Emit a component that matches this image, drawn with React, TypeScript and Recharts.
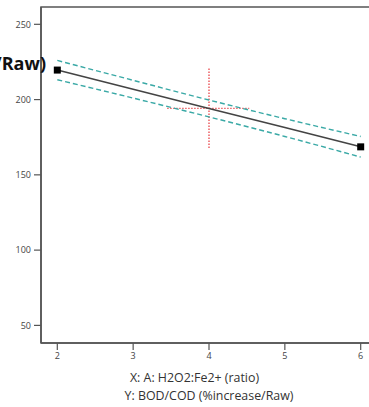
import React from 'react'
import { ComposedChart, Line, XAxis, YAxis, ReferenceLine, ReferenceArea } from 'recharts'

// A: H2O2:Fe2+ ratio
const ratio = [2, 3, 4, 5, 6]
// predicted BOD/COD (%increase/Raw)
const predicted = [219.6, 206.9, 194.1, 181.4, 168.6]
const upperCI = [226.0, 212.8, 199.7, 187.3, 175.5]
const lowerCI = [213.2, 201.0, 188.5, 175.5, 161.8]

const xTicks = [2, 3, 4, 5, 6]
const yTicks = [50, 100, 150, 200, 250]

// current design point crosshair
const crossX = 4
const crossY = 194.1
const crossYRange = [167.9, 221.7]
const crossXRange = [3.45, 4.53]

const data = ratio.map((x, i) => ({
  x,
  mean: predicted[i],
  hi: upperCI[i],
  lo: lowerCI[i],
}))

const FONT = '"Open Sans", "Noto Sans", sans-serif'
const AXIS = '#555'

const EndSquare = (props: any) => {
  const { cx, cy, index } = props
  if (index !== 0 && index !== data.length - 1) return <g key={`d-${index}`} />
  return <rect key={`d-${index}`} x={cx - 3.5} y={cy - 3.5} width={7} height={7} fill="#000" />
}

const CutLabel = () => (
  <text x={46} y={70} textAnchor="end" fontFamily={FONT} fontWeight={700} fontSize={18} fill="#111">
    BOD/COD (%increase/Raw)
  </text>
)

export default function App() {
  return (
    <div style={{ position: 'absolute', left: 0, top: 0, width: 369, height: 407, overflow: 'hidden', background: '#fff' }}>
      <ComposedChart
        width={392}
        height={407}
        data={data}
        margin={{ top: 7, right: 15, left: 0, bottom: 0 }}
      >
        <ReferenceArea x1={1.785} x2={6.215} y1={38.3} y2={261.5} fill="none" stroke={AXIS} strokeWidth={1.5} ifOverflow="visible" />
        <XAxis
          dataKey="x"
          type="number"
          domain={[1.785, 6.215]}
          ticks={xTicks}
          allowDataOverflow
          height={64}
          tickSize={7}
          tickMargin={3}
          axisLine={{ stroke: AXIS, strokeWidth: 1.5 }}
          tickLine={{ stroke: AXIS, strokeWidth: 1.2 }}
          tick={{ fontSize: 9, fill: '#444', fontFamily: FONT }}
          label={() => (
            <g fontFamily={FONT} fontSize={12.4} fill="#333">
              <text x={194.5} y={382} textAnchor="middle">X: A: H2O2:Fe2+ (ratio)</text>
              <text x={209} y={399.5} textAnchor="middle">Y: BOD/COD (%increase/Raw)</text>
            </g>
          )}
        />
        <YAxis
          type="number"
          domain={[38.3, 261.5]}
          ticks={yTicks}
          allowDataOverflow
          width={41}
          tickSize={7}
          tickMargin={3}
          axisLine={{ stroke: AXIS, strokeWidth: 1.5 }}
          tickLine={{ stroke: AXIS, strokeWidth: 1.2 }}
          tick={{ fontSize: 9, fill: '#444', fontFamily: FONT }}
          label={<CutLabel />}
        />
        <ReferenceLine
          segment={[{ x: crossX, y: crossYRange[0] }, { x: crossX, y: crossYRange[1] }]}
          stroke="#e8454a"
          strokeWidth={1.3}
          strokeDasharray="1.3 1.7"
        />
        <ReferenceLine
          segment={[{ x: crossXRange[0], y: crossY }, { x: crossXRange[1], y: crossY }]}
          stroke="#e8454a"
          strokeWidth={1.3}
          strokeDasharray="1.3 1.7"
        />
        <Line dataKey="hi" type="monotone" stroke="#3aa9a6" strokeWidth={1.4} strokeDasharray="5 3" dot={false} isAnimationActive={false} />
        <Line dataKey="lo" type="monotone" stroke="#3aa9a6" strokeWidth={1.4} strokeDasharray="5 3" dot={false} isAnimationActive={false} />
        <Line dataKey="mean" type="linear" stroke="#444" strokeWidth={1.6} dot={EndSquare} activeDot={false} isAnimationActive={false} />
      </ComposedChart>
    </div>
  )
}
